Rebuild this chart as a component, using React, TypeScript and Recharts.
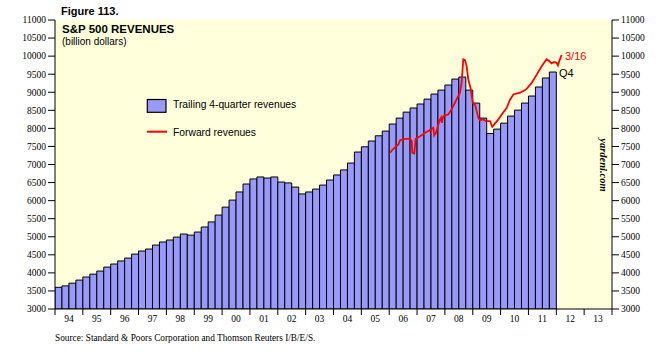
import React from 'react';
import { ComposedChart, Bar, Line, XAxis, YAxis, CartesianGrid } from 'recharts';

const firstYear = 1994;
// Trailing 4-quarter revenues, quarterly 1994Q1 .. 2011Q4 (billion dollars)
const trailingRevenues = [
  3600, 3640, 3715, 3800,
  3885, 3965, 4050, 4160,
  4245, 4330, 4410, 4520,
  4605, 4660, 4770, 4855,
  4910, 4990, 5075, 5045,
  5130, 5270, 5410, 5600,
  5820, 6015, 6240, 6460,
  6600, 6655, 6625, 6655,
  6515, 6490, 6375, 6185,
  6240, 6320, 6430, 6570,
  6710, 6850, 7040, 7345,
  7490, 7650, 7795, 7925,
  8120, 8285, 8450, 8565,
  8675, 8810, 8950, 9060,
  9200, 9365, 9420, 9060,
  8700, 8285, 7860, 7980,
  8145, 8340, 8505, 8700,
  8895, 9145, 9395, 9560,
];

// Forward revenues (weekly readings, decimal year)
const fwdTimes = [
  2006.03, 2006.15, 2006.33, 2006.39, 2006.57, 2006.75, 2006.81, 2006.83, 2006.9, 2006.95,
  2007.11, 2007.29, 2007.46, 2007.58, 2007.62, 2007.68, 2007.8, 2007.86, 2007.89, 2007.94,
  2008.12, 2008.24, 2008.36, 2008.42, 2008.54, 2008.6, 2008.66, 2008.72, 2008.78, 2008.84,
  2008.93, 2009.0, 2009.08, 2009.14, 2009.2, 2009.26, 2009.38, 2009.48, 2009.62, 2009.7,
  2009.77, 2009.92, 2010.04, 2010.22, 2010.34, 2010.46, 2010.7, 2010.88, 2010.94, 2011.12,
  2011.3, 2011.48, 2011.65, 2011.74, 2011.83, 2011.92, 2012.01, 2012.06, 2012.13, 2012.19,
];
const fwdValues = [
  7324, 7435, 7554, 7674, 7712, 7712, 7646, 7324, 7305, 7712,
  7784, 7879, 7951, 8017, 7804, 7879, 8200, 8295, 8156, 8339,
  8386, 8525, 8710, 8802, 8988, 9265, 9911, 9891, 9725, 9356,
  9079, 8710, 8663, 8478, 8295, 8228, 8247, 8200, 8200, 8045,
  8109, 8247, 8386, 8572, 8802, 8940, 8988, 9060, 9098, 9265,
  9495, 9725, 9911, 9863, 9800, 9836, 9819, 9744, 9911, 10030,
];

const yTicks = [3000, 3500, 4000, 4500, 5000, 5500, 6000, 6500, 7000, 7500, 8000, 8500, 9000, 9500, 10000, 10500, 11000];
const xTicks = [1994, 1995, 1996, 1997, 1998, 1999, 2000, 2001, 2002, 2003, 2004, 2005, 2006, 2007, 2008, 2009, 2010, 2011, 2012, 2013, 2014];

const barData = trailingRevenues.map((v, i) => ({ t: firstYear + (i + 0.5) / 4, trailing: v }));
const lineData = fwdTimes.map((t, i) => ({ t, forward: fwdValues[i] }));

const BAR_FILL = '#9999fa';
const BG = '#ffffdc';
const SANS = '"Liberation Sans", Arial, sans-serif';
const SERIF = '"Liberation Serif", "Times New Roman", serif';

const XTick = (props: any) => {
  const { x, y, payload } = props;
  if (payload.value >= 2014) return null;
  const label = String(payload.value % 100).padStart(2, '0');
  return (
    <text x={x + 13.94} y={y} dy="0.71em" textAnchor="middle" fontFamily={SERIF} fontSize={9.5} fill="#000">
      {label}
    </text>
  );
};

export default function App() {
  return (
    <div style={{ position: 'absolute', left: 0, top: 0, width: 660, height: 360, background: '#fff' }}>
      <ComposedChart
        width={660}
        height={360}
        data={barData}
        margin={{ top: 20, right: 0, bottom: 0, left: 0 }}
        barCategoryGap={0}
        barGap={0}
      >
        <CartesianGrid fill={BG} stroke="none" horizontal={false} vertical={false} />
        <XAxis
          dataKey="t"
          type="number"
          domain={[1994, 2014]}
          ticks={xTicks}
          interval={0}
          height={51}
          tickSize={6}
          tickMargin={0}
          tick={<XTick />}
          stroke="#000"
          allowDataOverflow
        />
        <XAxis xAxisId="bars" dataKey="t" type="number" domain={[1994, 2014]} hide allowDataOverflow />
        <YAxis
          type="number"
          domain={[3000, 11000]}
          ticks={yTicks}
          interval={0}
          width={55}
          tickSize={7}
          tickMargin={2}
          stroke="#000"
          tick={{ fontFamily: SERIF, fontSize: 9.5, fill: '#000' }}
          allowDataOverflow
        />
        <YAxis
          yAxisId="right"
          orientation="right"
          type="number"
          domain={[3000, 11000]}
          ticks={yTicks}
          interval={0}
          width={48}
          tickSize={7}
          tickMargin={2}
          stroke="#000"
          tick={{ fontFamily: SERIF, fontSize: 9.5, fill: '#000' }}
          allowDataOverflow
        />
        <Bar
          xAxisId="bars"
          dataKey="trailing"
          fill={BAR_FILL}
          stroke="#000"
          strokeWidth={1}
          isAnimationActive={false}
        />
        <Line
          data={lineData}
          dataKey="forward"
          type="linear"
          stroke="#ff0000"
          strokeWidth={1.8}
          dot={false}
          activeDot={false}
          isAnimationActive={false}
        />
      </ComposedChart>
      <svg width={660} height={360} style={{ position: 'absolute', left: 0, top: 0, pointerEvents: 'none' }}>
        <text x={61} y={14.7} fontFamily={SANS} fontWeight="bold" fontSize={11} fill="#000">Figure 113.</text>
        <text x={62} y={33.3} fontFamily={SANS} fontWeight="bold" fontSize={11.5} fill="#000">S&amp;P 500 REVENUES</text>
        <text x={62} y={45} fontFamily={SANS} fontSize={10} fill="#000">(billion dollars)</text>
        <rect x={147.3} y={99.5} width={18.7} height={12.8} fill={BAR_FILL} stroke="#000" strokeWidth={1.2} />
        <text x={173} y={107.8} fontFamily={SANS} fontSize={10.3} fill="#000">Trailing 4-quarter revenues</text>
        <line x1={147} y1={131.7} x2={167} y2={131.7} stroke="#ff0000" strokeWidth={2} />
        <text x={173} y={136.4} fontFamily={SANS} fontSize={10.3} fill="#000">Forward revenues</text>
        <text x={565} y={60} fontFamily={SANS} fontSize={11} fill="#ff0000">3/16</text>
        <text x={559} y={77.3} fontFamily={SANS} fontSize={11} fill="#000">Q4</text>
        <text
          x={603}
          y={165}
          transform="rotate(90 603 165)"
          textAnchor="middle"
          dominantBaseline="central"
          fontFamily={SERIF}
          fontStyle="italic"
          fontWeight="bold"
          fontSize={10.5}
          fill="#000"
        >
          yardeni.com
        </text>
        <text x={55} y={340.5} fontFamily={SERIF} fontSize={9.3} fill="#000">
          Source: Standard &amp; Poors Corporation and Thomson Reuters I/B/E/S.
        </text>
      </svg>
    </div>
  );
}
